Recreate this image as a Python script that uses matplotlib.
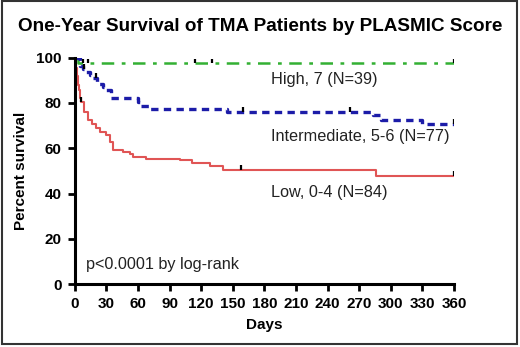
import numpy as np
import matplotlib.pyplot as plt
from matplotlib.patches import Rectangle

plt.rcParams['font.family'] = ['Liberation Sans', 'DejaVu Sans']

# DATA ---------------------------------------------
days_ticks = [0, 30, 60, 90, 120, 150, 180, 210, 240, 270, 300, 330, 360]
pct_ticks = [0, 20, 40, 60, 80, 100]

# high score (N=39)
high_t = [0, 3, 360]
high_s = [100, 97.4, 97.4]
high_cens_t = [8, 12, 114, 130, 360]

# intermediate score (N=77)
mid_t = [0, 5, 8, 11, 14, 17, 21, 27, 30, 34, 60, 63, 71, 144, 283, 291, 330, 360]
mid_s = [100, 96.1, 94.8, 93.5, 92.2, 90.9, 88.3, 87.0, 85.7, 82.3, 80.3, 78.8, 77.4, 76.0, 74.7, 72.6, 70.9, 70.9]
mid_cens_t = [9, 20, 160, 261, 360]

# low score (N=84)
low_t = [0, 1, 2, 3, 4, 5, 6, 9, 12, 16, 20, 24, 30, 33, 36, 46, 52, 55, 68, 100, 111, 128, 141, 286, 360]
low_s = [100, 95.2, 91.7, 88.1, 85.7, 82.1, 80.3, 76.2, 72.4, 70.9, 69.0, 67.2, 65.9, 62.9, 59.2, 58.5, 57.5,
         56.3, 55.3, 54.6, 53.4, 52.0, 50.5, 47.6, 47.6]
low_cens_t = [6, 158, 360]


def surv_at(t, ts, ss):
    i = np.searchsorted(ts, t, side='right') - 1
    return ss[i]


# PLOT ---------------------------------------------
fig = plt.figure(figsize=(5.2, 3.47), dpi=100)
ax = fig.add_axes([0.144, 0.181, 0.729, 0.653])

ax.step(high_t, high_s, where='post', color='#33b033', lw=1.8, ls=(0, (5, 3, 1.5, 3)))
ax.step(mid_t, mid_s, where='post', color='#1c1ca8', lw=2.4, ls=(0, (2.2, 1.6)))
ax.step(low_t, low_s, where='post', color='#e05555', lw=1.5)

for ct, ts, ss in [(high_cens_t, high_t, high_s), (mid_cens_t, mid_t, mid_s), (low_cens_t, low_t, low_s)]:
    ys = [surv_at(c, ts, ss) for c in ct]
    ax.vlines(ct, [y for y in ys], [y + 2.2 for y in ys], color='black', lw=1.6, zorder=5)

ax.set_xlim(0, 360)
ax.set_ylim(0, 100)
ax.set_xticks(days_ticks)
ax.set_yticks(pct_ticks)
ax.tick_params(width=2, length=5, labelsize=11, pad=4.5)
for lab in ax.get_xticklabels() + ax.get_yticklabels():
    lab.set_fontweight('bold')
for s in ['top', 'right']:
    ax.spines[s].set_visible(False)
for s in ['left', 'bottom']:
    ax.spines[s].set_linewidth(2.2)
    ax.spines[s].set_clip_on(False)

ax.set_xlabel('Days', fontsize=11, fontweight='bold', labelpad=5)
ax.set_ylabel('Percent survival', fontsize=11, fontweight='bold', labelpad=6)

ax.text(186, 90.5, 'High, 7 (N=39)', fontsize=11.7, color='#222222', va='center')
ax.text(186, 65, 'Intermediate, 5-6 (N=77)', fontsize=11.7, color='#222222', va='center')
ax.text(186, 40.5, 'Low, 0-4 (N=84)', fontsize=11.7, color='#222222', va='center')
ax.text(11, 8.5, 'p<0.0001 by log-rank', fontsize=11.7, color='#222222', va='center')

fig.text(0.5, 0.925, 'One-Year Survival of TMA Patients by PLASMIC Score',
         ha='center', va='center', fontsize=13.6, fontweight='bold')

fig.patches.append(Rectangle((0.004, 0.008), 0.99, 0.988, transform=fig.transFigure,
                             fill=False, edgecolor='#333333', lw=1.5))

plt.savefig('out.png', dpi=100)
